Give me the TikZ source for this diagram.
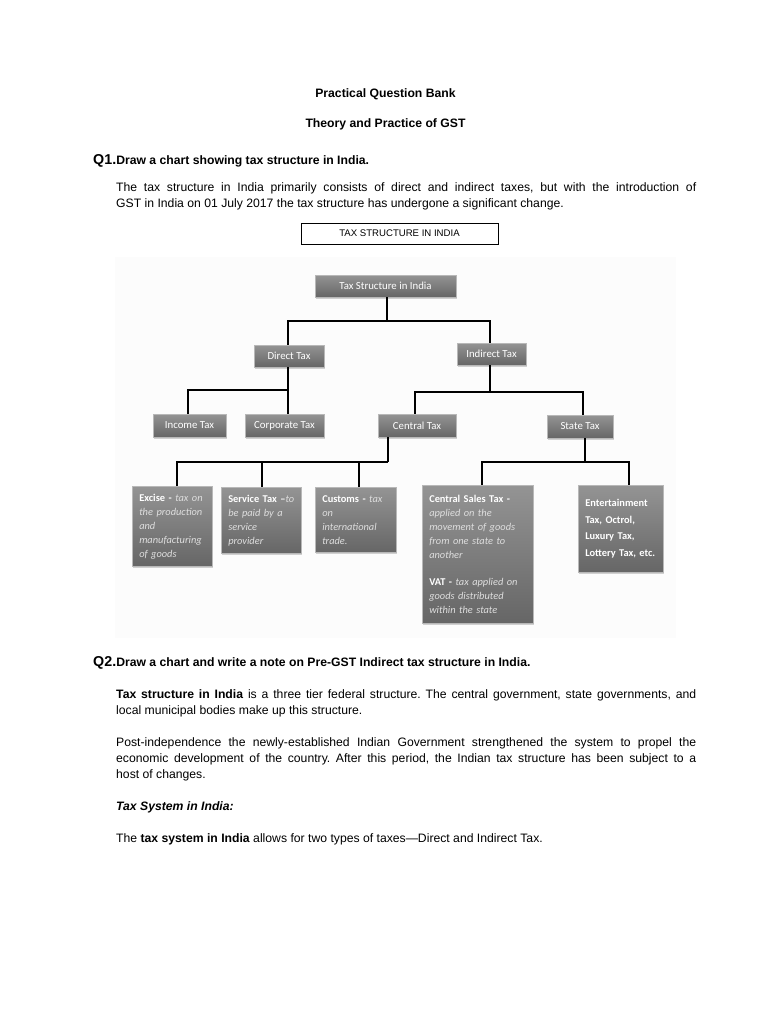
\documentclass[tikz,border=0pt]{standalone}
\usepackage{fontspec}
\setmainfont{Liberation Sans}
\newfontfamily\chartfont{Carlito}
\usetikzlibrary{shadows}
\hyphenpenalty=10000
\frenchspacing
\newcommand\bodysize{\fontsize{12.2}{16}\selectfont}
\newcommand\qsize{\fontsize{14.3}{16}\selectfont}
\newcommand\hdr[1]{\textcolor{white}{\textbf{#1}}}
\newcommand\desc[1]{\textcolor{black!13}{\textit{#1}}}
\tikzset{
  taxbox/.style={draw=black!28, line width=0.5pt, top color=black!42, bottom color=black!60,
    drop shadow={opacity=0.35, shadow xshift=1pt, shadow yshift=-1.5pt},
    text=white, font=\chartfont\fontsize{10.8}{13}\selectfont, minimum height=22pt, inner sep=2pt},
  notebox/.style={taxbox, anchor=north west, align=left, inner xsep=7pt,
    font=\chartfont\fontsize{10.4}{14}\selectfont},
  link/.style={line width=1.8pt, black},
  para/.style={anchor=base west, inner sep=0pt, text width=580pt, align=justify, font=\bodysize},
  plain/.style={anchor=base west, inner sep=0pt, font=\bodysize},
  title/.style={anchor=base, inner sep=0pt, font=\bodysize\bfseries}
}
\begin{document}
\begin{tikzpicture}[x=1pt,y=-1pt]
    \useasboundingbox (0,0) rectangle (768,1024);
    \fill[white] (0,0) rectangle (768,1024);
    % heading
    \node[title] (bank) at (385.5,98) {Practical Question Bank};
    \node[title] (gst) at (385.5,128) {Theory and Practice of GST};
    \node[plain] (q1) at (93,165) {\bfseries\qsize Q1.\bodysize Draw a chart showing tax structure in India.};
    \node[para] (intro) at (116,192) {The tax structure in India primarily consists of direct and indirect taxes, but with the introduction of\linebreak GST in India on 01 July 2017 the tax structure has undergone a significant change.};
    \node[draw, line width=0.8pt, minimum width=197pt, minimum height=21pt, inner sep=0pt,
          font=\fontsize{9.6}{11}\selectfont] (caption) at (399.5,233.5) {TAX STRUCTURE IN INDIA};
    % chart
    \fill[black!1] (115,257) rectangle (676,638);
    \node[taxbox, minimum width=141pt] (root) at (385.5,286) {Tax Structure in India};
    \node[taxbox, minimum width=70pt] (direct) at (289,356) {Direct Tax};
    \node[taxbox, minimum width=69pt] (indirect) at (491.5,354) {Indirect Tax};
    \node[taxbox, minimum width=73pt, minimum height=23pt] (income) at (189.5,425.5) {Income Tax};
    \node[taxbox, minimum width=79pt, minimum height=23pt] (corporate) at (284.5,425.5) {Corporate Tax};
    \node[taxbox, minimum width=78pt, minimum height=23pt] (central) at (417,425.5) {Central Tax};
    \node[taxbox, minimum width=66pt, minimum height=23pt] (state) at (580,426.5) {State Tax};
    \node[notebox, text width=66pt, minimum width=80pt, minimum height=80pt] (excise) at (132,486)
        {\hdr{Excise -} \desc{tax on}\\ \desc{the production}\\ \desc{and}\\ \desc{manufacturing}\\ \desc{of goods}};
    \node[notebox, text width=66pt, minimum width=80pt, minimum height=66pt] (service) at (221,487)
        {\hdr{Service Tax –}\desc{to}\\ \desc{be paid by a}\\ \desc{service}\\ \desc{provider}};
    \node[notebox, text width=67pt, minimum width=81pt, minimum height=65pt] (customs) at (315,487)
        {\hdr{Customs -} \desc{tax}\\ \desc{on}\\ \desc{international}\\ \desc{trade.}};
    \node[notebox, text width=97pt, minimum width=111pt, minimum height=138pt] (sales) at (422,485)
        {\hdr{Central Sales Tax -}\\ \desc{applied on the}\\ \desc{movement of goods}\\ \desc{from one state to}\\ \desc{another}\\[13pt]
         \hdr{VAT -} \desc{tax applied on}\\ \desc{goods distributed}\\ \desc{within the state}};
    \node[notebox, text width=71pt, minimum width=85pt, minimum height=87pt,
          font=\chartfont\bfseries\fontsize{10.4}{16.4}\selectfont] (ent) at (578,485)
        {Entertainment\\ Tax, Octrol,\\ Luxury Tax,\\ Lottery Tax, etc.};
    % connectors
    \coordinate (busA) at (387,321);
    \coordinate (busB) at (288,390);
    \coordinate (busC) at (490,392);
    \coordinate (busD) at (388,462);
    \coordinate (busE) at (585,462);
    \draw[link] (root.south -| busA) -- (busA);
    \draw[link] (direct.north -| busB) |- (busA) -| (indirect.north -| busC);
    \draw[link] (direct.south -| busB) -- (busB);
    \draw[link] ([xshift=-1.5pt]income.north) |- (busB) -- ([xshift=3.5pt]corporate.north);
    \draw[link] (indirect.south -| busC) -- (busC);
    \draw[link] ([xshift=-2pt]central.north) |- (busC) -| ([xshift=3pt]state.north);
    \draw[link] (central.south -| busD) -- (busD);
    \draw[link] ([xshift=5pt]excise.north) |- (busD);
    \draw[link] ([xshift=1pt]service.north) -- ([xshift=1pt]service.north |- busD);
    \draw[link] ([xshift=3.5pt]customs.north) -- ([xshift=3.5pt]customs.north |- busD);
    \draw[link] (state.south -| busE) -- (busE);
    \draw[link] ([xshift=4.5pt]sales.north) |- (busE) -| ([xshift=8.5pt]ent.north);
    % second question
    \node[plain] (q2) at (93,666) {\bfseries\qsize Q2.\bodysize Draw a chart and write a note on Pre-GST Indirect tax structure in India.};
    \node[para] (tier) at (116,698) {\textbf{Tax structure in India} is a three tier federal structure. The central government, state governments, and\linebreak local municipal bodies make up this structure.};
    \node[para] (post) at (116,746) {Post-independence the newly-established Indian Government strengthened the system to propel the\linebreak economic development of the country. After this period, the Indian tax structure has been subject to a\linebreak host of changes.};
    \node[plain] (system) at (116,810) {\bfseries\itshape Tax System in India:};
    \node[plain] (types) at (116,842) {The \textbf{tax system in India} allows for two types of taxes—Direct and Indirect Tax.};
\end{tikzpicture}
\end{document}
